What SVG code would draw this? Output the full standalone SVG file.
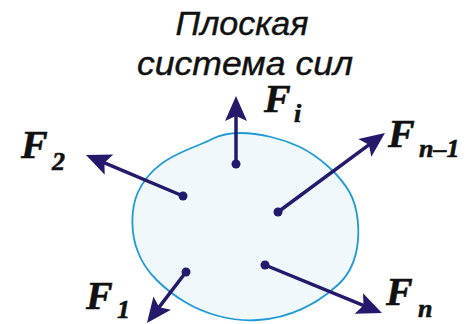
<svg xmlns="http://www.w3.org/2000/svg" width="472" height="324" viewBox="0 0 472 324">
<style>
.title{font-family:"Liberation Sans",Arial,sans-serif;font-style:italic;font-size:33px;fill:#111;stroke:#111;stroke-width:0.4;text-anchor:middle}
.lab{font-family:"Liberation Serif","Times New Roman",serif;font-style:italic;font-weight:bold;font-size:40px;fill:#111;stroke:#111;stroke-width:0.6}
.sub{font-size:26px}
.force{stroke:#241a6b;stroke-width:3.5;fill:none;marker-end:url(#ah)}
.dot{fill:#241a6b}
</style>
<defs>
<marker id="ah" markerUnits="userSpaceOnUse" markerWidth="40" markerHeight="30" viewBox="-15 -15 40 30" refX="0" refY="0" orient="auto" overflow="visible">
<path d="M15,0 L-10,-11 L-5,0 L-10,11 Z" fill="#241a6b"/>
</marker>
</defs>
<g id="body">
<path d="M240,133 C260,133 283,139 300,147 C320,157 340,175 350,193 C358,208 360,230 357,248 C354,266 345,280 333,289 C318,302 292,318 258,320 C232,322 205,314 185,302 C165,290 145,272 138,252 C131,235 130,210 138,192 C146,175 160,162 180,153 C195,146 205,143 212,139 C220,135 230,133 240,133 Z" fill="#f0f8fc" stroke="#1e9bd7" stroke-width="1.8"/>
</g>
<g id="title">
<text class="title" x="242" y="35" textLength="133" lengthAdjust="spacingAndGlyphs">Плоская</text>
<text class="title" x="245" y="75" textLength="216" lengthAdjust="spacingAndGlyphs">система сил</text>
</g>
<g id="connectors">
<line class="force" x1="236" y1="164" x2="236" y2="111"/>
<line class="force" x1="183" y1="196" x2="99.8" y2="160.8"/>
<line class="force" x1="278" y1="212" x2="372.9" y2="141.9"/>
<line class="force" x1="186" y1="272" x2="156.1" y2="311.1"/>
<line class="force" x1="265" y1="265" x2="368.1" y2="307.3"/>
<circle class="dot" cx="236" cy="164" r="4.5"/>
<circle class="dot" cx="183" cy="196" r="4.5"/>
<circle class="dot" cx="278" cy="212" r="4.5"/>
<circle class="dot" cx="186" cy="272" r="4.5"/>
<circle class="dot" cx="265" cy="265" r="4.5"/>
</g>
<g id="Fi"><text class="lab" x="264" y="112">F<tspan class="sub" x="294" y="122">i</tspan></text></g>
<g id="F2"><text class="lab" x="21" y="158">F<tspan class="sub" x="52" y="170">2</tspan></text></g>
<g id="Fn-1"><text class="lab" x="388" y="147">F<tspan class="sub" x="419" y="157">n–1</tspan></text></g>
<g id="F1"><text class="lab" x="86" y="309">F<tspan class="sub" x="117" y="318">1</tspan></text></g>
<g id="Fn"><text class="lab" x="386" y="305">F<tspan class="sub" x="418" y="317">n</tspan></text></g>
</svg>
